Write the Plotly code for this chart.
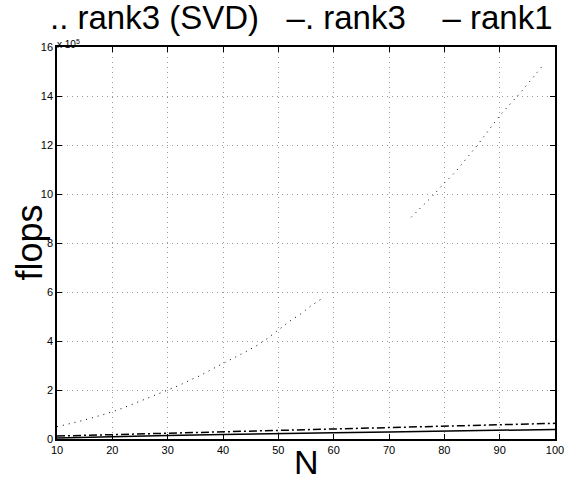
import plotly.graph_objects as go

# Values in units of 1e5 flops
N_svd = [10, 12, 14, 16, 18, 20, 22, 24, 26, 28, 30, 32, 34, 36, 38, 40, 42, 44, 46, 48,
         50, 52, 54, 56, 58, 60, 62, 64, 66, 68, 70, 72, 74, 76, 78, 80, 82, 84, 86, 88,
         90, 92, 94, 96, 98]
svd = [0.5, 0.6, 0.72, 0.84, 0.97, 1.11, 1.27, 1.45, 1.63, 1.83, 2.0, 2.18, 2.4, 2.6, 2.85,
       3.08, 3.3, 3.55, 3.8, 4.1, 4.45, 4.8, 5.1, 5.45, 5.75, None, None, None, None, None,
       None, None, 9.05, 9.5, 9.95, 10.45, 10.9, 11.45, 12.0, 12.6, 13.2, 13.7, 14.2, 14.75,
       15.3]

N_r = [10, 20, 30, 40, 50, 60, 70, 80, 90, 100]
rank3 = [0.12, 0.18, 0.24, 0.3, 0.37, 0.42, 0.47, 0.53, 0.59, 0.64]
rank1 = [0.04, 0.1, 0.14, 0.18, 0.23, 0.26, 0.29, 0.32, 0.36, 0.39]

xticks = [10, 20, 30, 40, 50, 60, 70, 80, 90, 100]
yticks = [0, 2, 4, 6, 8, 10, 12, 14, 16]

font = "Liberation Sans, Arial, Helvetica, sans-serif"

fig = go.Figure()
fig.add_trace(go.Scatter(x=N_svd, y=svd, mode="lines", connectgaps=False,
                         line=dict(color="black", width=1, dash="1px,5px"),
                         name="rank3 (SVD)"))
fig.add_trace(go.Scatter(x=N_r, y=rank3, mode="lines",
                         line=dict(color="black", width=1.5, dash="8px,3px,2px,3px"),
                         name="rank3"))
fig.add_trace(go.Scatter(x=N_r, y=rank1, mode="lines",
                         line=dict(color="black", width=1.5),
                         name="rank1"))

axis_common = dict(showline=True, linecolor="black", linewidth=1.5, mirror="ticks",
                   ticks="inside", ticklen=5, tickcolor="black", tickwidth=1,
                   showgrid=True, gridcolor="#999", griddash="1px,4px", gridwidth=1,
                   zeroline=False, automargin=False, ticklabeloverflow="allow",
                   tickfont=dict(family=font, size=11, color="black"))

fig.update_layout(
    width=564, height=482,
    margin=dict(l=57, r=9, t=47, b=43),
    paper_bgcolor="white", plot_bgcolor="white",
    showlegend=False,
    xaxis=dict(range=[10, 100], tickvals=xticks, **axis_common),
    yaxis=dict(range=[0, 16], tickvals=yticks, **axis_common),
    annotations=[
        dict(text=".. rank3 (SVD)   \u2013. rank3    \u2013 rank1", xref="paper", yref="paper",
             x=0.49, y=1.0, yshift=9, xanchor="center", yanchor="bottom", showarrow=False,
             font=dict(family=font, size=33, color="black")),
        dict(text="x 10<sup>5</sup>", xref="paper", yref="paper", x=0.0, y=1.0,
             xanchor="left", yanchor="bottom", showarrow=False, xshift=-2, yshift=-5,
             font=dict(family=font, size=10, color="black")),
        dict(text="N", xref="paper", yref="paper", x=0.5, y=0.0, yshift=-2,
             xanchor="center", yanchor="top", showarrow=False,
             font=dict(family=font, size=34, color="black")),
        dict(text="flops", xref="paper", yref="paper", x=0.0, y=0.5, xshift=-6,
             xanchor="right", yanchor="middle", showarrow=False, textangle=-90,
             font=dict(family=font, size=36, color="black")),
    ],
)

fig.write_html("out.html")
